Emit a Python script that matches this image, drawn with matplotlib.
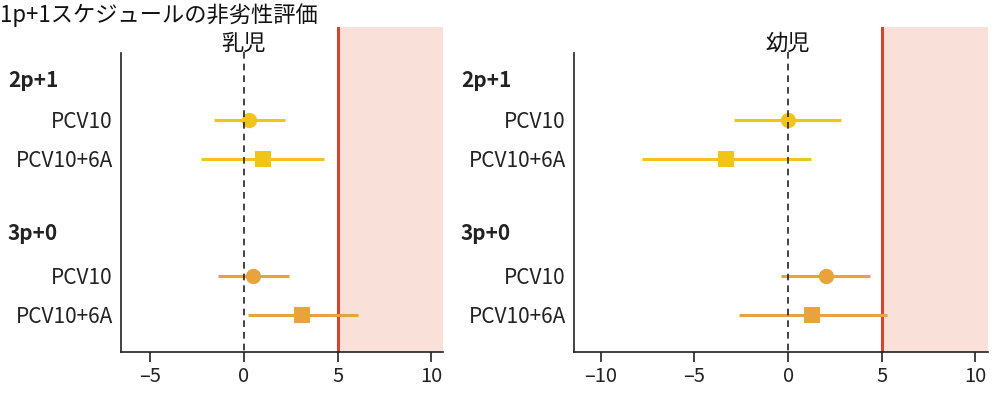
import matplotlib
matplotlib.use("Agg")
import matplotlib.pyplot as plt
from matplotlib.transforms import blended_transform_factory

plt.rcParams["font.family"] = ["Noto Sans CJK JP", "DejaVu Sans"]

# data: difference estimates with CI, per age group
row_labels = ["PCV10", "PCV10+6A", "PCV10", "PCV10+6A"]
row_pos = [0, 1, 4, 5]
group_labels = ["2p+1", "3p+0"]
group_pos = [-1.0, 2.92]
markers = ["o", "s", "o", "s"]

infant_est = [0.3, 1.0, 0.5, 3.1]
infant_lo = [-1.6, -2.3, -1.4, 0.2]
infant_hi = [2.2, 4.3, 2.4, 6.1]

toddler_est = [0.0, -3.3, 2.0, 1.3]
toddler_lo = [-2.9, -7.8, -0.4, -2.6]
toddler_hi = [2.8, 1.2, 4.4, 5.3]

margin = 5
yellow = "#F1C418"
orange = "#E9A23C"
colors = [yellow, yellow, orange, orange]


def draw_panel(fig, rect, title, est, lo, hi, xlim, xticks, head_x):
    ax = fig.add_axes(rect)
    ax.set_xlim(*xlim)
    ax.set_ylim(5.95, -2.38)

    ax.axvspan(margin, xlim[1], color="#F9E1DA", lw=0, zorder=0)
    ax.axvline(margin, color="#D5452E", lw=2.2, zorder=1)
    ax.vlines(0, -1.74, 5.95, colors="#222222", linestyles=(0, (4, 3)), lw=1.2, zorder=5)

    for y, e, l, h, m, c in zip(row_pos, est, lo, hi, markers, colors):
        ax.plot([l, h], [y, y], color=c, lw=2.2, solid_capstyle="butt", zorder=3)
        ax.plot(e, y, marker=m, color=c, markersize=11 if m == "o" else 11.5,
                markeredgewidth=0, zorder=4)

    ax.set_yticks(row_pos)
    ax.set_yticklabels(row_labels, fontsize=15, color="#222222")
    ax.tick_params(axis="y", length=0, pad=6)
    ax.set_xticks(xticks)
    ax.set_xticklabels([str(t).replace("-", "\u2013") for t in xticks], fontsize=14.5, color="#222222")
    ax.tick_params(axis="x", length=7, width=1.2, color="#222222", pad=3)

    for side in ["top", "right"]:
        ax.spines[side].set_visible(False)
    ax.spines["left"].set_bounds(5.95, -1.72)
    ax.spines["left"].set_linewidth(1.2)
    ax.spines["bottom"].set_linewidth(1.2)
    ax.spines["left"].set_color("#222222")
    ax.spines["bottom"].set_color("#222222")

    trans = blended_transform_factory(fig.transFigure, ax.transData)
    for gy, gl in zip(group_pos, group_labels):
        ax.text(head_x, gy, gl, transform=trans, fontsize=15, fontweight="bold",
                ha="left", va="center", color="#222222")

    ax.text(0, -1.95, title, fontsize=16, ha="center", va="center", color="#111111")
    return ax


fig = plt.figure(figsize=(10, 3.96), dpi=100)

draw_panel(fig, [0.121, 0.111, 0.322, 0.821], "乳児",
           infant_est, infant_lo, infant_hi, (-6.55, 10.62), [-5, 0, 5, 10], 0.008)
draw_panel(fig, [0.574, 0.111, 0.4143, 0.821], "幼児",
           toddler_est, toddler_lo, toddler_hi, (-11.43, 10.69), [-10, -5, 0, 5, 10], 0.461)

fig.text(0.0, 0.962, "1p+1スケジュールの非劣性評価", fontsize=16, ha="left", va="center", color="#111111")

fig.savefig("out.png", dpi=100)
